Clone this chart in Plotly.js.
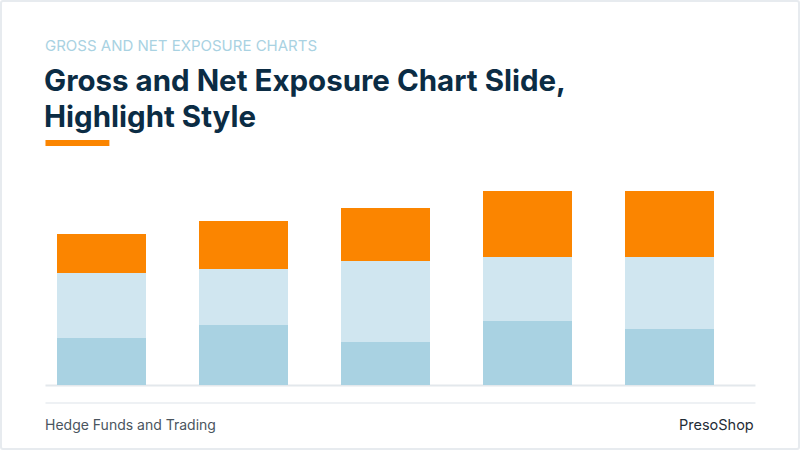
<!DOCTYPE html>
<html>
<head>
<meta charset="utf-8">
<script src="https://cdn.plot.ly/plotly-3.0.1.min.js"></script>
<style>
  html, body { margin: 0; padding: 0; background: #ffffff; }
  #wrap { position: relative; width: 800px; height: 450px; }
  #grafico { width: 800px; height: 450px; }
  #moldura {
    position: absolute; left: 0; top: 0; width: 800px; height: 450px;
    box-sizing: border-box; border: 2px solid #e7ebef; border-radius: 3px;
    pointer-events: none;
  }
</style>
</head>
<body>
<div id="wrap">
  <div id="grafico"></div>
  <div id="moldura"></div>
</div>
<script>
/* =========================================
   DADOS
========================================= */

let categorias = ["A", "B", "C", "D", "E"];

let baseValores  = [47, 60, 43, 64, 56];
let meioValores  = [65, 56, 81, 64, 72];
let topoValores  = [39, 48, 53, 66, 66];

/* =========================================
   GRÁFICO
========================================= */

// plot area: x 30.5..740.5 px, y 185..385 px
const L = 30.5, R = 740.5, T = 185, B = 385;
function px(x){ return (x - L) / (R - L); }
function py(y){ return (B - y) / (B - T); }

let trace1 = {
    x: categorias,
    y: baseValores,
    type: "bar",
    name: "Base",
    marker: { color: "#a9d2e2" },
    hoverinfo: "skip"
};

let trace2 = {
    x: categorias,
    y: meioValores,
    type: "bar",
    name: "Meio",
    marker: { color: "#d0e6f0" },
    hoverinfo: "skip"
};

let trace3 = {
    x: categorias,
    y: topoValores,
    type: "bar",
    name: "Topo",
    marker: { color: "#fb8500" },
    hoverinfo: "skip"
};

let fonte = "Inter, 'Open Sans', sans-serif";

let layout = {
    width: 800,
    height: 450,
    barmode: "stack",
    bargap: 0.373,
    showlegend: false,
    paper_bgcolor: "#ffffff",
    plot_bgcolor: "rgba(0,0,0,0)",
    margin: { t: T, l: L, r: 800 - R, b: 450 - B },

    xaxis: {
        showticklabels: false,
        showgrid: false,
        zeroline: false,
        showline: false,
        fixedrange: true
    },
    yaxis: {
        range: [0, 200],
        showticklabels: false,
        showgrid: false,
        zeroline: false,
        fixedrange: true
    },

    shapes: [
        // linha de base
        { type: "line", xref: "paper", yref: "paper",
          x0: px(45), x1: px(756), y0: py(385.5), y1: py(385.5),
          line: { color: "#e3e8ec", width: 2 }, layer: "below" },
        // linha do rodapé
        { type: "line", xref: "paper", yref: "paper",
          x0: px(45), x1: px(756), y0: py(403), y1: py(403),
          line: { color: "#e9edf0", width: 1.5 } },
        // sublinhado laranja
        { type: "rect", xref: "paper", yref: "paper",
          x0: px(45), x1: px(109), y0: py(140), y1: py(146),
          fillcolor: "#fb8500", line: { width: 0 } }
    ],

    annotations: [
        { text: "GROSS AND NET EXPOSURE CHARTS", xref: "paper", yref: "paper",
          x: px(43), y: py(45), xanchor: "left", yanchor: "middle", showarrow: false,
          font: { family: fonte, size: 15, color: "#a9d2e2" } },
        { text: "<b>Gross and Net Exposure Chart Slide,</b>", xref: "paper", yref: "paper",
          x: px(42), y: py(80), xanchor: "left", yanchor: "middle", showarrow: false,
          font: { family: fonte, size: 29.5, color: "#0b2c44" } },
        { text: "<b>Highlight Style</b>", xref: "paper", yref: "paper",
          x: px(42), y: py(116), xanchor: "left", yanchor: "middle", showarrow: false,
          font: { family: fonte, size: 29.5, color: "#0b2c44" } },
        { text: "Hedge Funds and Trading", xref: "paper", yref: "paper",
          x: px(43), y: py(424), xanchor: "left", yanchor: "middle", showarrow: false,
          font: { family: fonte, size: 14, color: "#4a555e" } },
        { text: "PresoShop", xref: "paper", yref: "paper",
          x: px(757), y: py(424), xanchor: "right", yanchor: "middle", showarrow: false,
          font: { family: fonte, size: 14.5, color: "#1f2c36" } }
    ]
};

Plotly.newPlot(
    "grafico",
    [trace1, trace2, trace3],
    layout,
    { displayModeBar: false, staticPlot: true }
);
</script>
</body>
</html>
